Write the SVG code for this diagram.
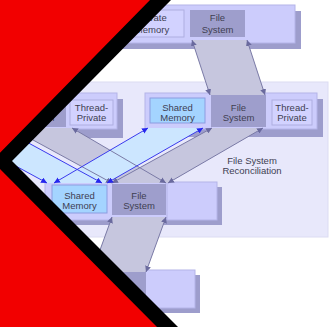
<svg xmlns="http://www.w3.org/2000/svg" width="330" height="327" viewBox="0 0 330 327">
<style>
.panel{fill:#ccccfc;stroke:#b4b4e8;stroke-width:1}
.shadow{fill:#9d9dcc}
.priv{fill:#d2d2ff;stroke:#aeaee0;stroke-width:1}
.fs{fill:#9e9ecc}
.sm{fill:#a4d4ff;stroke:#8c9ce0;stroke-width:1}
.t{font-family:"Liberation Sans",Arial,sans-serif;font-size:9.5px;fill:#3e3e52;text-anchor:middle}
.gband{fill:#c6c6de}
.bband{fill:#cce6ff}
.gl{stroke:#7a7aa6;stroke-width:1;fill:none;marker-start:url(#ag);marker-end:url(#ag)}
.bl{stroke:#3a3aee;stroke-width:1;fill:none;marker-start:url(#ab);marker-end:url(#ab)}
</style>
<defs>
<marker id="ag" viewBox="0 0 10 10" refX="10" refY="5" markerWidth="6" markerHeight="6" orient="auto-start-reverse" markerUnits="userSpaceOnUse"><path d="M0,0 L10,5 L0,10 z" fill="#6a6a9e"/></marker>
<marker id="ab" viewBox="0 0 10 10" refX="10" refY="5" markerWidth="6" markerHeight="6" orient="auto-start-reverse" markerUnits="userSpaceOnUse"><path d="M0,0 L10,5 L0,10 z" fill="#2626ee"/></marker>
</defs>
<rect width="330" height="327" fill="#ffffff"/>
<rect id="background-panel" x="-10" y="82" width="338" height="155" fill="#e8e8fb" stroke="#dcdcf2" stroke-width="1"/>

<g id="top-group">
<rect class="shadow" x="122" y="11" width="179" height="38"/>
<rect class="panel" x="116" y="5" width="179" height="38"/>
<rect class="priv" x="121" y="10" width="63" height="27"/>
<text class="t" x="152" y="20.5">Private</text>
<text class="t" x="152" y="32.5">Memory</text>
<rect class="fs" x="190" y="10" width="55" height="27"/>
<text class="t" x="217.5" y="20.5">File</text>
<text class="t" x="217.5" y="32.5">System</text>
</g>

<g id="left-group">
<rect class="shadow" x="-49" y="99" width="172" height="39"/>
<rect class="panel" x="-55" y="93" width="172" height="36"/>
<rect class="sm" x="-50" y="98" width="55" height="25"/>
<rect class="fs" x="11" y="95" width="55" height="32"/>
<text class="t" x="38.5" y="110.5">File</text>
<text class="t" x="38.5" y="121">System</text>
<rect class="priv" x="70" y="100" width="43" height="25"/>
<text class="t" x="91.5" y="110.5">Thread-</text>
<text class="t" x="91.5" y="121">Private</text>
</g>

<g id="right-group">
<rect class="shadow" x="151" y="99" width="172" height="38"/>
<rect class="panel" x="145" y="93" width="172" height="36"/>
<rect class="sm" x="150" y="98" width="55" height="25"/>
<text class="t" x="177.5" y="110.5">Shared</text>
<text class="t" x="177.5" y="121">Memory</text>
<rect class="fs" x="211" y="95" width="55" height="32"/>
<text class="t" x="238.5" y="110.5">File</text>
<text class="t" x="238.5" y="121">System</text>
<rect class="priv" x="272" y="100" width="40" height="25"/>
<text class="t" x="292" y="110.5">Thread-</text>
<text class="t" x="292" y="121">Private</text>
</g>

<g id="bottom-group">
<rect class="shadow" x="50" y="187" width="172" height="38"/>
<rect class="panel" x="45" y="182" width="172" height="38"/>
<rect class="sm" x="52" y="185" width="55" height="28"/>
<text class="t" x="79.5" y="198.5">Shared</text>
<text class="t" x="79.5" y="208.5">Memory</text>
<rect class="fs" x="112" y="184" width="54" height="31"/>
<text class="t" x="139" y="198.5">File</text>
<text class="t" x="139" y="208.5">System</text>
<line x1="167" y1="182" x2="167" y2="220" stroke="#b4b4e8" stroke-width="1"/>
</g>

<g id="lowest-group">
<rect class="shadow" x="35" y="275" width="165" height="38"/>
<rect class="panel" x="30" y="270" width="165" height="38"/>
<rect class="fs" x="92" y="270" width="54" height="32"/>
</g>

<g id="connectors">
<polygon class="gband" points="192,40 247,40 265,95 210,95"/>
<line class="gl" x1="192" y1="40" x2="210" y2="95"/>
<line class="gl" x1="247" y1="40" x2="265" y2="95"/>

<polygon class="bband" points="-54,128 1,128 102,183 47,183"/>
<polygon class="gband" points="11,128 72,128 166,183 112,183"/>
<polygon class="gband" points="212,128 263,128 168,183 112,183"/>
<polygon class="bband" points="148,128 203,128 107,183 54,183"/>

<line class="bl" x1="-54" y1="128" x2="47" y2="183"/>
<line class="bl" x1="1" y1="128" x2="102" y2="183"/>
<line class="gl" x1="11" y1="128" x2="112" y2="183"/>
<line class="gl" x1="72" y1="128" x2="166" y2="183"/>
<line class="gl" x1="212" y1="128" x2="112" y2="183"/>
<line class="gl" x1="263" y1="128" x2="168" y2="183"/>
<line class="bl" x1="148" y1="128" x2="54" y2="183"/>
<line class="bl" x1="203" y1="128" x2="107" y2="183"/>

<polygon class="gband" points="112,217 166,217 146,272 92,272"/>
<line class="gl" x1="112" y1="217" x2="92" y2="272"/>
<line class="gl" x1="166" y1="217" x2="146" y2="272"/>
</g>

<text class="t" x="252" y="163.5">File System</text>
<text class="t" x="252" y="173.5">Reconciliation</text>

<polygon points="0,0 171,0 12,161 178,327 0,327" fill="#000000"/>
<polygon points="0,0 150,0 -8,161 157,327 0,327" fill="#f20000"/>
</svg>
